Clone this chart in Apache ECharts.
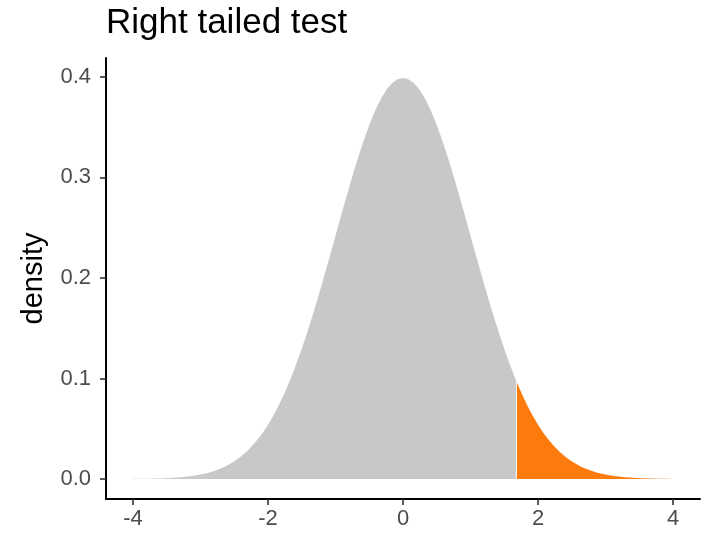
<!DOCTYPE html>
<html>
<head>
<meta charset="utf-8">
<script src="https://cdn.jsdelivr.net/npm/echarts@6/dist/echarts.min.js"></script>
<style>
html,body{margin:0;padding:0;background:#fff;}
#main{width:711px;height:535px;}
</style>
</head>
<body>
<div id="main"></div>
<script>
// Values (standard normal density curve)
const grayX = [-4.00,-3.92,-3.84,-3.76,-3.68,-3.60,-3.52,-3.44,-3.36,-3.28,-3.20,-3.12,-3.04,-2.96,-2.88,-2.80,-2.72,-2.64,-2.56,-2.48,-2.40,-2.32,-2.24,-2.16,-2.08,-2.00,-1.92,-1.84,-1.76,-1.68,-1.60,-1.52,-1.44,-1.36,-1.28,-1.20,-1.12,-1.04,-0.96,-0.88,-0.80,-0.72,-0.64,-0.56,-0.48,-0.40,-0.32,-0.24,-0.16,-0.08,0.00,0.08,0.16,0.24,0.32,0.40,0.48,0.56,0.64,0.72,0.80,0.88,0.96,1.04,1.12,1.20,1.28,1.36,1.44,1.52,1.60,1.68];
const grayY = [0.00013,0.00018,0.00025,0.00034,0.00046,0.00061,0.00081,0.00107,0.00141,0.00184,0.00238,0.00307,0.00393,0.00499,0.00631,0.00792,0.00988,0.01224,0.01506,0.01843,0.02239,0.02705,0.03246,0.03871,0.04587,0.05399,0.06316,0.07341,0.08478,0.09728,0.11092,0.12566,0.14147,0.15823,0.17585,0.19419,0.21307,0.23230,0.25164,0.27086,0.28969,0.30785,0.32506,0.34105,0.35553,0.36827,0.37903,0.38762,0.39387,0.39767,0.39894,0.39767,0.39387,0.38762,0.37903,0.36827,0.35553,0.34105,0.32506,0.30785,0.28969,0.27086,0.25164,0.23230,0.21307,0.19419,0.17585,0.15823,0.14147,0.12566,0.11092,0.09728];
const tailX = [1.68,1.76,1.84,1.92,2.00,2.08,2.16,2.24,2.32,2.40,2.48,2.56,2.64,2.72,2.80,2.88,2.96,3.04,3.12,3.20,3.28,3.36,3.44,3.52,3.60,3.68,3.76,3.84,3.92,4.00];
const tailY = [0.09728,0.08478,0.07341,0.06316,0.05399,0.04587,0.03871,0.03246,0.02705,0.02239,0.01843,0.01506,0.01224,0.00988,0.00792,0.00631,0.00499,0.00393,0.00307,0.00238,0.00184,0.00141,0.00107,0.00081,0.00061,0.00046,0.00034,0.00025,0.00018,0.00013];
const cutoff = 1.68;
const xTicks = [-4,-2,0,2,4];
const yTicks = [0,0.1,0.2,0.3,0.4];
const titleText = 'Right tailed test';
const yName = 'density';

const zip = (a,b)=>a.map((v,i)=>[v,b[i]]);
const chart = echarts.init(document.getElementById('main'), null, {renderer:'canvas'});
const font = 'Liberation Sans, Arial, sans-serif';
chart.setOption({
  animation:false,
  backgroundColor:'#ffffff',
  title:{text:titleText,left:101,top:1,textStyle:{fontFamily:font,fontSize:35,fontWeight:'normal',color:'#000'}},
  grid:{left:106,right:11,top:58,bottom:36,containLabel:false},
  xAxis:{type:'value',min:-4.4,max:4.4,
    axisLine:{show:true,onZero:false,lineStyle:{color:'#000',width:2}},
    axisTick:{show:true,length:6,customValues:xTicks,lineStyle:{color:'#333',width:1.6}},
    axisLabel:{customValues:xTicks,margin:9,fontFamily:font,fontSize:22,color:'#4D4D4D'},
    splitLine:{show:false}},
  yAxis:{type:'value',min:-0.0199,max:0.4188,name:yName,nameLocation:'middle',nameGap:58,
    nameTextStyle:{fontFamily:font,fontSize:29,color:'#000'},
    axisLine:{show:true,onZero:false,lineStyle:{color:'#000',width:2}},
    axisTick:{show:true,length:6,customValues:yTicks,lineStyle:{color:'#333',width:1.6}},
    axisLabel:{customValues:yTicks,margin:15,fontFamily:font,fontSize:22,color:'#4D4D4D',formatter:v=>v.toFixed(1)},
    splitLine:{show:false}},
  series:[
    {type:'line',data:zip(grayX,grayY),showSymbol:false,lineStyle:{width:0},areaStyle:{color:'#C8C8C8',opacity:1,origin:0}},
    {type:'line',data:zip(tailX,tailY),showSymbol:false,lineStyle:{width:0},areaStyle:{color:'#FD7A0C',opacity:1,origin:0}},
    {type:'line',data:[[cutoff,0],[cutoff,tailY[0]]],showSymbol:false,lineStyle:{color:'#fff',width:1}}
  ]
});
</script>
</body>
</html>
